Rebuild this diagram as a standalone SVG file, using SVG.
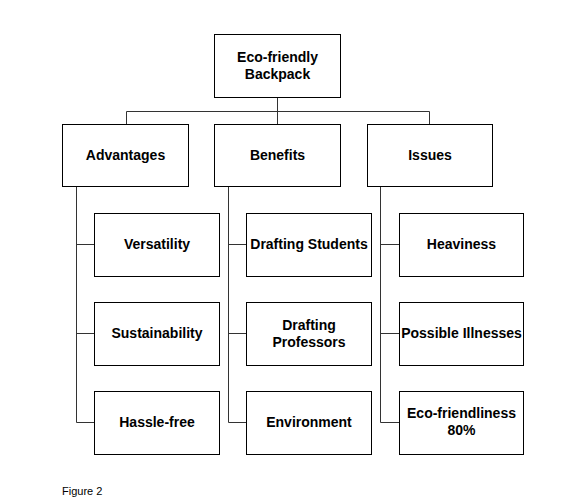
<svg xmlns="http://www.w3.org/2000/svg" width="588" height="503" viewBox="0 0 588 503">
<style>
.box{fill:#fff;stroke:#000;stroke-width:1}
.ln{fill:none;stroke:#333;stroke-width:1}
text{font-family:"Liberation Sans",Arial,sans-serif;font-weight:bold;font-size:14px;fill:#000;text-anchor:middle}
.cap{font-weight:normal;font-size:11px;text-anchor:start}
</style>
<rect width="588" height="503" fill="#fff"/>
<g id="connectors">
<path class="ln" d="M277.5 97V111.5M126.5 111.5H429.5M126.5 111.5V124M277.5 111.5V124M429.5 111.5V124"/>
<path class="ln" d="M76.5 186V422.5H94M76.5 244.5H94M76.5 333.5H94"/>
<path class="ln" d="M228.5 186V422.5H247M228.5 244.5H247M228.5 333.5H247"/>
<path class="ln" d="M380.5 186V422.5H399M380.5 244.5H399M380.5 333.5H399"/>
</g>
<g id="root"><rect class="box" x="214.5" y="34.5" width="126" height="63"/><text x="277.5" y="62">Eco-friendly</text><text x="277.5" y="79">Backpack</text></g>
<g id="advantages"><rect class="box" x="62.5" y="124.5" width="126" height="62"/><text x="125.5" y="160">Advantages</text></g>
<g id="benefits"><rect class="box" x="214.5" y="124.5" width="126" height="62"/><text x="277.5" y="160">Benefits</text></g>
<g id="issues"><rect class="box" x="367.5" y="124.5" width="125" height="62"/><text x="430" y="160">Issues</text></g>
<g id="versatility"><rect class="box" x="94.5" y="213.5" width="125" height="63"/><text x="157" y="249">Versatility</text></g>
<g id="sustainability"><rect class="box" x="94.5" y="302.5" width="125" height="63"/><text x="157" y="338">Sustainability</text></g>
<g id="hasslefree"><rect class="box" x="94.5" y="391.5" width="125" height="63"/><text x="157" y="427">Hassle-free</text></g>
<g id="students"><rect class="box" x="246.5" y="213.5" width="125" height="63"/><text x="309" y="249">Drafting Students</text></g>
<g id="professors"><rect class="box" x="246.5" y="302.5" width="125" height="63"/><text x="309" y="330">Drafting</text><text x="309" y="347">Professors</text></g>
<g id="environment"><rect class="box" x="246.5" y="391.5" width="125" height="63"/><text x="309" y="427">Environment</text></g>
<g id="heaviness"><rect class="box" x="399.5" y="213.5" width="124" height="63"/><text x="461.5" y="249">Heaviness</text></g>
<g id="illnesses"><rect class="box" x="399.5" y="302.5" width="124" height="63"/><text x="461.5" y="338">Possible Illnesses</text></g>
<g id="ecofriendliness"><rect class="box" x="399.5" y="391.5" width="124" height="63"/><text x="461.5" y="418">Eco-friendliness</text><text x="461.5" y="435">80%</text></g>
<text class="cap" x="62" y="495">Figure 2</text>
</svg>
